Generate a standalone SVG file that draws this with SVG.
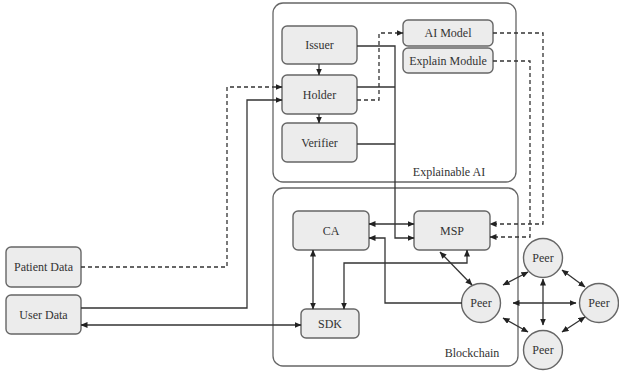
<svg xmlns="http://www.w3.org/2000/svg" width="619" height="371" viewBox="0 0 619 371">
<defs>
<marker id="ah" markerWidth="7" markerHeight="6" refX="6.5" refY="3" orient="auto-start-reverse" markerUnits="userSpaceOnUse">
<path d="M0,0 L7,3 L0,6 Z" fill="#222"/>
</marker>
<style>
.cont{fill:#fff;stroke:#666;stroke-width:1.3}
.node{fill:#ececec;stroke:#666;stroke-width:1.4}
.t{font-family:"Liberation Serif","DejaVu Serif",serif;font-size:12px;fill:#333;text-anchor:middle}
.c{fill:none;stroke:#333;stroke-width:1.3}
.d{fill:none;stroke:#333;stroke-width:1.3;stroke-dasharray:4 3}
</style>
</defs>
<rect width="619" height="371" fill="#fff"/>
<g id="explainable-ai">
<rect class="cont" x="273" y="3" width="243" height="179" rx="10"/>
<text class="t" x="449" y="176">Explainable AI</text>
</g>
<g id="blockchain">
<rect class="cont" x="273" y="188" width="245" height="178" rx="10"/>
<text class="t" x="472" y="357">Blockchain</text>
</g>
<g id="issuer"><rect class="node" x="282" y="26" width="75" height="38" rx="5"/><text class="t" x="319.5" y="49">Issuer</text></g>
<g id="holder"><rect class="node" x="282" y="75" width="75" height="39" rx="5"/><text class="t" x="319.5" y="98.5">Holder</text></g>
<g id="verifier"><rect class="node" x="282" y="123" width="75" height="39" rx="5"/><text class="t" x="319.5" y="146.5">Verifier</text></g>
<g id="ai-model"><rect class="node" x="403" y="20" width="90" height="26" rx="5"/><text class="t" x="448" y="37">AI Model</text></g>
<g id="explain-module"><rect class="node" x="403" y="48" width="90" height="25" rx="5"/><text class="t" x="448" y="64.5">Explain Module</text></g>
<g id="patient-data"><rect class="node" x="6" y="247" width="75" height="40" rx="5"/><text class="t" x="43.5" y="271">Patient Data</text></g>
<g id="user-data"><rect class="node" x="6" y="295" width="75" height="39" rx="5"/><text class="t" x="43.5" y="318.5">User Data</text></g>
<g id="ca"><rect class="node" x="293" y="211" width="76" height="39" rx="5"/><text class="t" x="331" y="234.5">CA</text></g>
<g id="msp"><rect class="node" x="414" y="211" width="76" height="39" rx="5"/><text class="t" x="452" y="234.5">MSP</text></g>
<g id="sdk"><rect class="node" x="301" y="309" width="58" height="29" rx="5"/><text class="t" x="330" y="327.5">SDK</text></g>
<g id="peer-center"><circle class="node" cx="481" cy="303" r="19.5"/><text class="t" x="481" y="307">Peer</text></g>
<g id="peer-top"><circle class="node" cx="543" cy="258" r="19.5"/><text class="t" x="543" y="262">Peer</text></g>
<g id="peer-right"><circle class="node" cx="599" cy="303" r="19.5"/><text class="t" x="599" y="307">Peer</text></g>
<g id="peer-bottom"><circle class="node" cx="543" cy="350" r="19.5"/><text class="t" x="543" y="354">Peer</text></g>
<g id="connectors">
<path class="d" d="M81,267 H227 V87 H282" marker-end="url(#ah)"/>
<path class="c" d="M81,308 H247 V100 H282" marker-end="url(#ah)"/>
<path class="c" d="M81,325 H301" marker-start="url(#ah)" marker-end="url(#ah)"/>
<path class="c" d="M319,64 V75" marker-end="url(#ah)"/>
<path class="c" d="M319,114 V123" marker-end="url(#ah)"/>
<path class="c" d="M357,46 H395 V238 H414" marker-end="url(#ah)"/>
<path class="c" d="M357,87 H395"/>
<path class="c" d="M357,144 H395"/>
<path class="d" d="M357,100 H379 V33 H403" marker-end="url(#ah)"/>
<path class="d" d="M493,33 H543 V224 H490" marker-end="url(#ah)"/>
<path class="d" d="M493,61 H530 V237 H490" marker-end="url(#ah)"/>
<path class="c" d="M369,224 H414" marker-start="url(#ah)" marker-end="url(#ah)"/>
<path class="c" d="M462,303 H385 V238 H369" marker-end="url(#ah)"/>
<path class="c" d="M467,250 V263 H344 V309" marker-start="url(#ah)" marker-end="url(#ah)"/>
<path class="c" d="M313,250 V309" marker-start="url(#ah)" marker-end="url(#ah)"/>
<path class="c" d="M440,252 L472,285" marker-start="url(#ah)" marker-end="url(#ah)"/>
<path class="c" d="M503,285 L528,272" marker-start="url(#ah)" marker-end="url(#ah)"/>
<path class="c" d="M513,303 H576" marker-start="url(#ah)" marker-end="url(#ah)"/>
<path class="c" d="M503,318 L528,332" marker-start="url(#ah)" marker-end="url(#ah)"/>
<path class="c" d="M543,279 V325" marker-start="url(#ah)" marker-end="url(#ah)"/>
<path class="c" d="M562,270 L585,287" marker-start="url(#ah)" marker-end="url(#ah)"/>
<path class="c" d="M562,332 L585,317" marker-start="url(#ah)" marker-end="url(#ah)"/>
</g>
</svg>
